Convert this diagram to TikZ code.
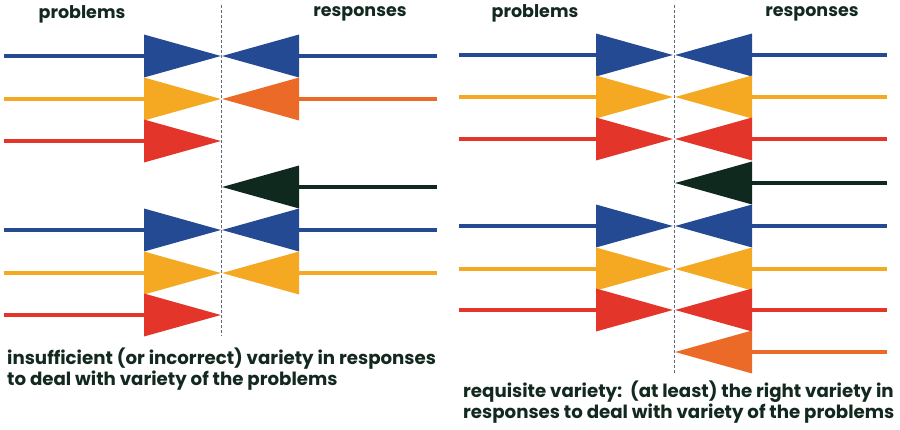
\documentclass[tikz,border=0pt]{standalone}
\usepackage{fontspec}
\setmainfont{Poppins}
\usetikzlibrary{arrows.meta}

\definecolor{vblue}{HTML}{234A92}
\definecolor{vorange}{HTML}{F5A923}
\definecolor{vred}{HTML}{E3352A}
\definecolor{vdark}{HTML}{10291E}
\definecolor{vmix}{HTML}{EC6A27}
\definecolor{vtext}{HTML}{13291F}
\definecolor{vgrid}{HTML}{5E6878}

\begin{document}
\begin{tikzpicture}[x=1pt,y=-1pt,
    flow/.style={line width=3.5pt, -{Triangle[length=77pt,width=42pt]}},
    divider/.style={densely dashed, line width=0.6pt, vgrid},
    heading/.style={font=\bfseries\fontsize{17.5}{21}\selectfont, text=vtext},
    caption/.style={font=\bfseries\fontsize{18.2}{20.5}\selectfont, text=vtext,
        align=left, anchor=base west, inner sep=0pt}]
    \useasboundingbox (0,0) rectangle (900,429);

    % left panel: too little variety
    \node[heading] (probA) at (82,14) {problems};
    \node[heading] (respA) at (360,14) {responses};
    \coordinate (divA top) at (221,5);
    \coordinate (divA bot) at (221,336);
    \draw[divider] (divA top) -- (divA bot);

    \foreach \y/\c in {56/vblue, 99/vorange, 141/vred, 230/vblue, 273/vorange, 315/vred} {
        \coordinate (pA-\y) at (4,\y);
        \coordinate (tA-\y) at (221,\y);
        \draw[flow, \c] (pA-\y) -- (tA-\y);
    }
    \foreach \y/\c in {56/vblue, 99/vmix, 187/vdark, 230/vblue, 273/vorange} {
        \coordinate (rA-\y) at (437,\y);
        \coordinate (sA-\y) at (222,\y);
        \draw[flow, \c] (rA-\y) -- (sA-\y);
    }

    \node[caption] (capA) at (7,385)
        {insufficient (or incorrect) variety in responses\\to deal with variety of the problems};

    % right panel: requisite variety
    \node[heading] (probB) at (535,13) {problems};
    \node[heading] (respB) at (812,14) {responses};
    \coordinate (divB top) at (674,5);
    \coordinate (divB bot) at (674,373);
    \draw[divider] (divB top) -- (divB bot);

    \foreach \y/\c in {55/vblue, 97/vorange, 139/vred, 226/vblue, 269/vorange, 310/vred} {
        \coordinate (pB-\y) at (459,\y);
        \coordinate (tB-\y) at (673,\y);
        \draw[flow, \c] (pB-\y) -- (tB-\y);
    }
    \foreach \y/\c in {55/vblue, 97/vorange, 139/vred, 183/vdark, 226/vblue, 269/vorange, 310/vred, 352/vmix} {
        \coordinate (rB-\y) at (887,\y);
        \coordinate (sB-\y) at (675,\y);
        \draw[flow, \c] (rB-\y) -- (sB-\y);
    }

    \node[caption] (capB) at (463,418)
        {requisite variety:\ \ (at least) the right variety in\\responses to deal with variety of the problems};
\end{tikzpicture}
\end{document}
